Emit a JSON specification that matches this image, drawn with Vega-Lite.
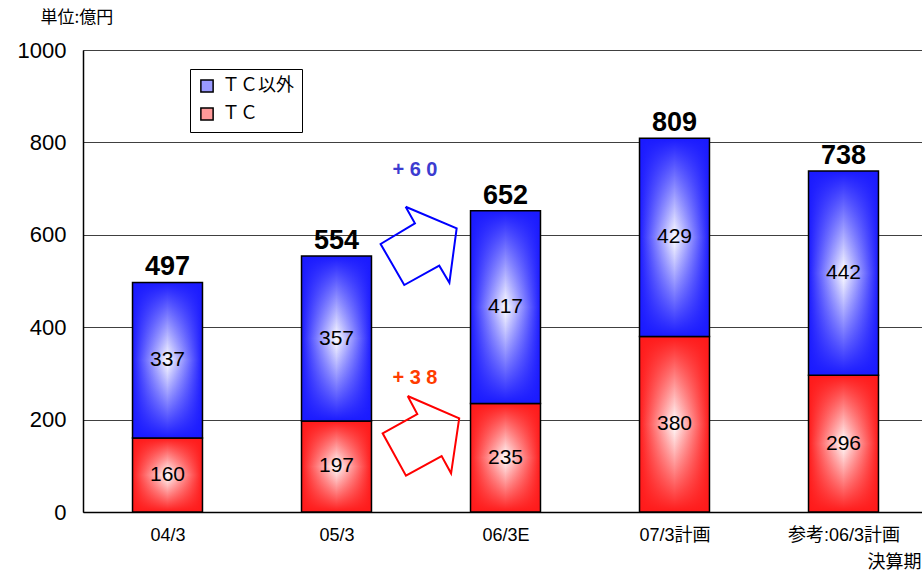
{
  "$schema": "https://vega.github.io/schema/vega-lite/v6.json",
  "autosize": {"type": "none"},
  "padding": {"left": 83, "top": 50, "right": 0, "bottom": 62},
  "width": 845,
  "height": 462,
  "background": "#ffffff",
  "config": {
    "font": "Liberation Sans, Noto Sans CJK JP, sans-serif",
    "view": {
      "stroke": "#808080",
      "fill": {"gradient": "linear", "x1": 0, "y1": 0, "x2": 0, "y2": 1,
        "stops": [{"offset": 0, "color": "#f8fff8"}, {"offset": 1, "color": "#c8fcc8"}]}
    }
  },
  "datasets": {
    "main": [
      {"period": "04/3", "tc": 160, "other": 337, "total": 497},
      {"period": "05/3", "tc": 197, "other": 357, "total": 554},
      {"period": "06/3E", "tc": 235, "other": 417, "total": 652},
      {"period": "07/3計画", "tc": 380, "other": 429, "total": 809},
      {"period": "参考:06/3計画", "tc": 296, "other": 442, "total": 738}
    ],
    "arrows": [
      {"arrow": "blue", "ord": 1, "ax": 1.909, "ay": 660.8},
      {"arrow": "blue", "ord": 2, "ax": 2.211, "ay": 614.1},
      {"arrow": "blue", "ord": 3, "ax": 2.168, "ay": 496.3},
      {"arrow": "blue", "ord": 4, "ax": 2.108, "ay": 533.1},
      {"arrow": "blue", "ord": 5, "ax": 1.901, "ay": 491.3},
      {"arrow": "blue", "ord": 6, "ax": 1.761, "ay": 580.1},
      {"arrow": "blue", "ord": 7, "ax": 1.964, "ay": 624.9},
      {"arrow": "blue", "ord": 8, "ax": 1.909, "ay": 660.8},
      {"arrow": "red", "ord": 1, "ax": 1.921, "ay": 251.1},
      {"arrow": "red", "ord": 2, "ax": 2.226, "ay": 202.8},
      {"arrow": "red", "ord": 3, "ax": 2.178, "ay": 83.8},
      {"arrow": "red", "ord": 4, "ax": 2.122, "ay": 121.2},
      {"arrow": "red", "ord": 5, "ax": 1.911, "ay": 78.6},
      {"arrow": "red", "ord": 6, "ax": 1.773, "ay": 170.3},
      {"arrow": "red", "ord": 7, "ax": 1.978, "ay": 212.1},
      {"arrow": "red", "ord": 8, "ax": 1.921, "ay": 251.1}
    ],
    "notes": [
      {"label": "+ 6 0", "nx": 1.964, "ny": 740, "kind": "blue"},
      {"label": "+ 3 8", "nx": 1.964, "ny": 290, "kind": "red"}
    ],
    "series": [{"series": "ＴＣ以外"}, {"series": "ＴＣ"}]
  },
  "layer": [
    {
      "data": {"name": "main"},
      "encoding": {
        "x": {
          "field": "period", "type": "nominal", "sort": null,
          "scale": {"paddingInner": 0.586, "paddingOuter": 0.293},
          "axis": {
            "title": "決算期", "titleFont": "Noto Sans CJK JP", "titleFontSize": 18,
            "titleFontWeight": "normal", "titleColor": "#000000",
            "titleX": 784, "titleY": 50, "titleAlign": "left", "titleBaseline": "middle",
            "labelAngle": 0, "labelFontSize": 18, "labelColor": "#000000", "labelPadding": 19,
            "labelFont": "Liberation Sans, Noto Sans CJK JP, sans-serif",
            "domainColor": "#000000", "domainWidth": 1.5,
            "ticks": true, "tickBand": "extent", "tickSize": -5, "tickColor": "#000000"
          }
        }
      },
      "layer": [
        {
          "mark": {"type": "bar",
            "fill": {"gradient": "linear", "x1": 0, "y1": 0, "x2": 1, "y2": 0,
              "stops": [{"offset": 0, "color": "#ff1a1a"}, {"offset": 0.5, "color": "#ffffff"}, {"offset": 1, "color": "#ff1a1a"}]}},
          "encoding": {
            "y": {"field": "tc", "type": "quantitative",
              "scale": {"domain": [0, 1000]},
              "axis": {"title": "単位:億円", "titleFont": "Noto Sans CJK JP", "titleFontSize": 17,
                "titleFontWeight": "normal", "titleColor": "#000000", "titleAngle": 0,
                "titleX": -43, "titleY": -33, "titleAlign": "left", "titleBaseline": "middle",
                "values": [0, 200, 400, 600, 800, 1000], "format": "d", "labelFontSize": 22, "labelColor": "#000000",
                "labelPadding": 17, "ticks": false, "domainColor": "#000000", "domainWidth": 1.5,
                "grid": true, "gridColor": "#404040", "gridWidth": 1}}
          }
        },
        {
          "mark": {"type": "bar", "stroke": "#000000", "strokeWidth": 1.5,
            "fill": {"gradient": "linear", "x1": 0, "y1": 0, "x2": 0, "y2": 1,
              "stops": [{"offset": 0, "color": "rgba(255,26,26,1)"}, {"offset": 0.5, "color": "rgba(255,26,26,0)"}, {"offset": 1, "color": "rgba(255,26,26,1)"}]}},
          "encoding": {
            "y": {"field": "tc", "type": "quantitative"}
          }
        },
        {
          "mark": {"type": "bar",
            "fill": {"gradient": "linear", "x1": 0, "y1": 0, "x2": 1, "y2": 0,
              "stops": [{"offset": 0, "color": "#1a1aff"}, {"offset": 0.5, "color": "#ffffff"}, {"offset": 1, "color": "#1a1aff"}]}},
          "encoding": {
            "y": {"field": "tc", "type": "quantitative"},
            "y2": {"field": "total"}
          }
        },
        {
          "mark": {"type": "bar", "stroke": "#000000", "strokeWidth": 1.5,
            "fill": {"gradient": "linear", "x1": 0, "y1": 0, "x2": 0, "y2": 1,
              "stops": [{"offset": 0, "color": "rgba(26,26,255,1)"}, {"offset": 0.5, "color": "rgba(26,26,255,0)"}, {"offset": 1, "color": "rgba(26,26,255,1)"}]}},
          "encoding": {
            "y": {"field": "tc", "type": "quantitative"},
            "y2": {"field": "total"}
          }
        },
        {
          "transform": [{"calculate": "datum.tc / 2", "as": "mid_tc"}],
          "mark": {"type": "text", "fontSize": 21, "color": "#000000", "baseline": "middle"},
          "encoding": {
            "y": {"field": "mid_tc", "type": "quantitative"},
            "text": {"field": "tc"}
          }
        },
        {
          "transform": [{"calculate": "datum.tc + datum.other / 2", "as": "mid_o"}],
          "mark": {"type": "text", "fontSize": 21, "color": "#000000", "baseline": "middle"},
          "encoding": {
            "y": {"field": "mid_o", "type": "quantitative"},
            "text": {"field": "other"}
          }
        },
        {
          "mark": {"type": "text", "fontSize": 27, "fontWeight": "bold", "color": "#000000", "baseline": "alphabetic", "dy": -7},
          "encoding": {
            "y": {"field": "total", "type": "quantitative"},
            "text": {"field": "total"}
          }
        }
      ]
    },
    {
      "layer": [
        {
          "data": {"name": "series"},
          "mark": {"type": "square", "opacity": 0},
          "encoding": {
            "color": {"field": "series", "type": "nominal",
              "scale": {"domain": ["ＴＣ以外", "ＴＣ"], "range": ["#9a9aff", "#ff9a9a"]},
              "legend": {"title": null, "orient": "none", "legendX": 107, "legendY": 19,
                "direction": "vertical", "symbolType": "square", "symbolSize": 150,
                "symbolOpacity": 1, "symbolStrokeColor": "#000000", "symbolStrokeWidth": 1.5,
                "labelFont": "Noto Sans CJK JP", "labelFontSize": 18, "labelColor": "#000000",
                "fillColor": "#ffffff", "strokeColor": "#000000", "padding": 8, "rowPadding": 8,
                "labelOffset": 6, "labelLimit": 200}}
          }
        },
        {
          "data": {"name": "arrows"},
          "transform": [{"filter": "datum.arrow == 'blue'"}],
          "mark": {"type": "line", "color": "#0000ff", "strokeWidth": 2},
          "encoding": {
            "x": {"field": "ax", "type": "quantitative", "scale": {"domain": [0, 5]}, "axis": null},
            "y": {"field": "ay", "type": "quantitative"},
            "order": {"field": "ord"}
          }
        },
        {
          "data": {"name": "arrows"},
          "transform": [{"filter": "datum.arrow == 'red'"}],
          "mark": {"type": "line", "color": "#ff0000", "strokeWidth": 2},
          "encoding": {
            "x": {"field": "ax", "type": "quantitative"},
            "y": {"field": "ay", "type": "quantitative"},
            "order": {"field": "ord"}
          }
        },
        {
          "data": {"name": "notes"},
          "transform": [{"filter": "datum.kind == 'blue'"}],
          "mark": {"type": "text", "fontSize": 20, "fontWeight": "bold", "color": "#3c3cd0", "baseline": "middle"},
          "encoding": {
            "x": {"field": "nx", "type": "quantitative"},
            "y": {"field": "ny", "type": "quantitative"},
            "text": {"field": "label"}
          }
        },
        {
          "data": {"name": "notes"},
          "transform": [{"filter": "datum.kind == 'red'"}],
          "mark": {"type": "text", "fontSize": 20, "fontWeight": "bold", "color": "#ff3c00", "baseline": "middle"},
          "encoding": {
            "x": {"field": "nx", "type": "quantitative"},
            "y": {"field": "ny", "type": "quantitative"},
            "text": {"field": "label"}
          }
        }
      ]
    }
  ],
  "resolve": {"scale": {"x": "independent"}}
}
